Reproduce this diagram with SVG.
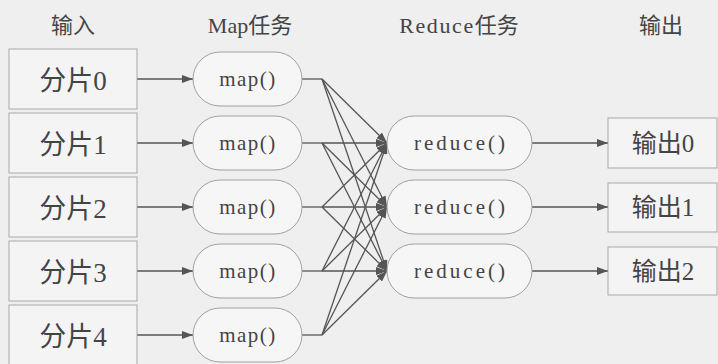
<svg xmlns="http://www.w3.org/2000/svg" width="718" height="364" viewBox="0 0 718 364">
<defs>
<marker id="ah" markerUnits="userSpaceOnUse" markerWidth="11" markerHeight="8" refX="11" refY="4" orient="auto">
<path d="M0,0 L11,4 L0,8 z" fill="#555"/>
</marker>
<style>
.bg{fill:#efefef}
.box{fill:#f4f4f4;stroke:#a8a8a8;stroke-width:1}
.pill{fill:#f6f6f6;stroke:#a0a0a0;stroke-width:1}
.hd{font-family:"Liberation Serif","Noto Sans CJK SC",serif;font-size:22px;fill:#444;text-anchor:middle}
.lb{font-family:"Liberation Serif","Noto Sans CJK SC",serif;font-size:27px;fill:#444;text-anchor:middle}
.ol{font-family:"Liberation Serif","Noto Sans CJK SC",serif;font-size:25px;fill:#444;text-anchor:middle}
.fn{font-family:"Liberation Serif",serif;font-size:21px;fill:#444;text-anchor:middle}
.fm{letter-spacing:1.5px}
.fr{letter-spacing:3px}
.cn{fill:none;stroke:#555;stroke-width:1.3}
.ar{marker-end:url(#ah)}
</style>
</defs>
<rect class="bg" x="0" y="0" width="718" height="364"/>
<g id="headers">
<text class="hd" x="73" y="33">输入</text>
<text class="hd" x="250" y="33">Map任务</text>
<text class="hd" x="459" y="33"><tspan letter-spacing="1.6">Reduce</tspan>任务</text>
<text class="hd" x="661" y="33">输出</text>
</g>
<g id="connectors">
<line class="cn ar" x1="137" y1="79" x2="193" y2="79"/>
<line class="cn ar" x1="137" y1="143" x2="193" y2="143"/>
<line class="cn ar" x1="137" y1="207" x2="193" y2="207"/>
<line class="cn ar" x1="137" y1="271" x2="193" y2="271"/>
<line class="cn ar" x1="137" y1="335" x2="193" y2="335"/>
<line class="cn" x1="302" y1="79" x2="322" y2="79"/>
<line class="cn" x1="302" y1="143" x2="322" y2="143"/>
<line class="cn" x1="302" y1="207" x2="322" y2="207"/>
<line class="cn" x1="302" y1="271" x2="322" y2="271"/>
<line class="cn" x1="302" y1="335" x2="322" y2="335"/>
<line class="cn ar" x1="322" y1="79" x2="387" y2="143"/>
<line class="cn ar" x1="322" y1="79" x2="387" y2="207"/>
<line class="cn ar" x1="322" y1="79" x2="387" y2="271"/>
<line class="cn ar" x1="322" y1="143" x2="387" y2="143"/>
<line class="cn ar" x1="322" y1="143" x2="387" y2="207"/>
<line class="cn ar" x1="322" y1="143" x2="387" y2="271"/>
<line class="cn ar" x1="322" y1="207" x2="387" y2="143"/>
<line class="cn ar" x1="322" y1="207" x2="387" y2="207"/>
<line class="cn ar" x1="322" y1="207" x2="387" y2="271"/>
<line class="cn ar" x1="322" y1="271" x2="387" y2="143"/>
<line class="cn ar" x1="322" y1="271" x2="387" y2="207"/>
<line class="cn ar" x1="322" y1="271" x2="387" y2="271"/>
<line class="cn ar" x1="322" y1="335" x2="387" y2="143"/>
<line class="cn ar" x1="322" y1="335" x2="387" y2="207"/>
<line class="cn ar" x1="322" y1="335" x2="387" y2="271"/>
<line class="cn ar" x1="532" y1="143" x2="608" y2="143"/>
<line class="cn ar" x1="532" y1="207" x2="608" y2="207"/>
<line class="cn ar" x1="532" y1="271" x2="608" y2="271"/>
</g>
<g id="split0"><rect class="box" x="9" y="49" width="128" height="60"/><text class="lb" x="73" y="90">分片0</text></g>
<g id="split1"><rect class="box" x="9" y="113" width="128" height="60"/><text class="lb" x="73" y="154">分片1</text></g>
<g id="split2"><rect class="box" x="9" y="177" width="128" height="60"/><text class="lb" x="73" y="218">分片2</text></g>
<g id="split3"><rect class="box" x="9" y="241" width="128" height="60"/><text class="lb" x="73" y="282">分片3</text></g>
<g id="split4"><rect class="box" x="9" y="305" width="128" height="62"/><text class="lb" x="73" y="346">分片4</text></g>
<g id="map0"><rect class="pill" x="193" y="52" width="109" height="54" rx="27"/><text class="fn fm" x="248" y="86">map()</text></g>
<g id="map1"><rect class="pill" x="193" y="116" width="109" height="54" rx="27"/><text class="fn fm" x="248" y="150">map()</text></g>
<g id="map2"><rect class="pill" x="193" y="180" width="109" height="54" rx="27"/><text class="fn fm" x="248" y="214">map()</text></g>
<g id="map3"><rect class="pill" x="193" y="244" width="109" height="54" rx="27"/><text class="fn fm" x="248" y="278">map()</text></g>
<g id="map4"><rect class="pill" x="193" y="308" width="109" height="54" rx="27"/><text class="fn fm" x="248" y="342">map()</text></g>
<g id="reduce0"><rect class="pill" x="387" y="116" width="145" height="54" rx="27"/><text class="fn fr" x="461" y="150">reduce()</text></g>
<g id="reduce1"><rect class="pill" x="387" y="180" width="145" height="54" rx="27"/><text class="fn fr" x="461" y="214">reduce()</text></g>
<g id="reduce2"><rect class="pill" x="387" y="244" width="145" height="54" rx="27"/><text class="fn fr" x="461" y="278">reduce()</text></g>
<g id="out0"><rect class="box" x="608" y="118" width="109" height="50"/><text class="ol" x="663" y="152">输出0</text></g>
<g id="out1"><rect class="box" x="608" y="183" width="109" height="49"/><text class="ol" x="663" y="216">输出1</text></g>
<g id="out2"><rect class="box" x="608" y="247" width="109" height="48"/><text class="ol" x="663" y="280">输出2</text></g>
</svg>
